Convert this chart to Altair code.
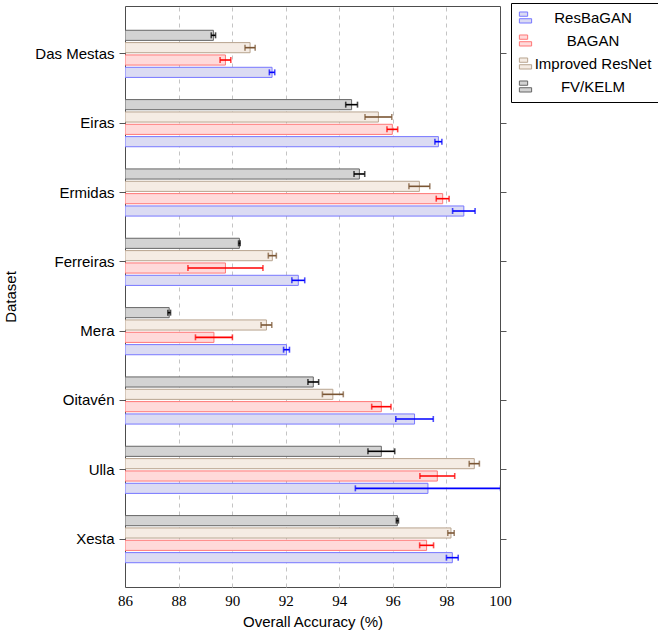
import altair as alt
import pandas as pd

datasets = ["Das Mestas", "Eiras", "Ermidas", "Ferreiras", "Mera", "Oitavén", "Ulla", "Xesta"]
methods = ["ResBaGAN", "BAGAN", "Improved ResNet", "FV/KELM"]
offset_order = ["FV/KELM", "Improved ResNet", "BAGAN", "ResBaGAN"]

resbagan = [91.49, 97.70, 98.65, 92.47, 92.03, 96.81, 97.31, 98.22]
resbagan_err = [0.10, 0.13, 0.42, 0.24, 0.11, 0.70, 2.71, 0.22]
bagan = [89.75, 95.98, 97.86, 89.75, 89.32, 95.57, 97.66, 97.26]
bagan_err = [0.20, 0.20, 0.24, 1.40, 0.69, 0.36, 0.65, 0.26]
resnet = [90.67, 95.46, 96.99, 91.50, 91.28, 93.76, 99.04, 98.17]
resnet_err = [0.19, 0.50, 0.39, 0.15, 0.20, 0.39, 0.19, 0.12]
fvkelm = [89.30, 94.46, 94.75, 90.27, 87.65, 93.03, 95.57, 96.17]
fvkelm_err = [0.08, 0.22, 0.20, 0.03, 0.05, 0.20, 0.50, 0.04]

x_ticks = [86, 88, 90, 92, 94, 96, 98, 100]

fills = ["#dbdbf3", "#ffdada", "#f5ece4", "#d3d3d3"]
strokes = ["#7777ff", "#ff7777", "#b8a48f", "#666666"]
errcolors = ["#0000ff", "#ff0000", "#7a5533", "#000000"]

rows = []
for m, vals, errs in [("ResBaGAN", resbagan, resbagan_err), ("BAGAN", bagan, bagan_err),
                      ("Improved ResNet", resnet, resnet_err), ("FV/KELM", fvkelm, fvkelm_err)]:
    for d, v, e in zip(datasets, vals, errs):
        rows.append({"Dataset": d, "Method": m, "value": v, "lo": v - e, "hi": v + e})
df = pd.DataFrame(rows)

sans = "Liberation Sans"
serif = "Liberation Serif"

xscale = alt.Scale(domain=[86, 100], zero=False, nice=False)
yscale = alt.Scale(domain=datasets, paddingInner=0.32, paddingOuter=0.35)
yoff = alt.YOffset("Method:N", scale=alt.Scale(domain=offset_order, paddingInner=0.18, paddingOuter=0))

xaxis = alt.Axis(values=x_ticks, grid=True, gridDash=[4, 4],
                 gridColor={"condition": {"test": "datum.value <= 86 || datum.value >= 100",
                                          "value": "transparent"},
                            "value": "#c4c4c4"},
                 ticks=False, domain=False, labelFont=serif, labelFontSize=15,
                 labelColor="black", labelPadding=6, labelFlush=False, labelOverlap=False,
                 title="Overall Accuracy (%)",
                 titleFont=sans, titleFontSize=15, titleFontWeight="normal",
                 titleColor="black", titlePadding=6)

sym = "M-1,-0.9H0.35V-0.2H-1Z M-1,0.2H1V0.9H-1Z"
leg = alt.Legend(title=None, orient="none", legendX=386, legendY=-3, symbolType=sym,
                 symbolSize=150, symbolStrokeWidth=1, labelFont=sans, labelFontSize=15,
                 labelColor="black", labelAlign="center", labelOffset=60,
                 strokeColor="black", fillColor="white", padding=7, rowPadding=6,
                 cornerRadius=0)

base = alt.Chart(df)

bars = base.mark_bar(strokeWidth=1, clip=True).encode(
    x=alt.X("value:Q", scale=xscale, axis=xaxis),
    x2=alt.datum(86),
    y=alt.Y("Dataset:N", scale=yscale,
            axis=alt.Axis(title="Dataset", orient="left", domain=False, tickSize=6,
                          tickColor="#555555", labelFont=sans, labelFontSize=15,
                          labelColor="black", labelPadding=5, titleFont=sans,
                          titleFontSize=15, titleFontWeight="normal", titleColor="black",
                          titlePadding=16)),
    yOffset=yoff,
    fill=alt.Fill("Method:N", scale=alt.Scale(domain=methods, range=fills), legend=leg),
    stroke=alt.Stroke("Method:N", scale=alt.Scale(domain=methods, range=strokes), legend=leg),
)

right_axis = base.mark_bar(opacity=0).encode(
    x=alt.X("value:Q", scale=xscale, axis=xaxis),
    x2=alt.datum(86),
    y=alt.Y("Dataset:N", scale=yscale,
            axis=alt.Axis(title=None, orient="right", labels=False, domain=False,
                          tickSize=6, tickColor="#555555")),
    yOffset=yoff,
)

errc = alt.Color("Method:N", scale=alt.Scale(domain=methods, range=errcolors), legend=None)

err_line = base.mark_rule(strokeWidth=1.6, clip=True).encode(
    x=alt.X("lo:Q", scale=xscale, axis=xaxis),
    x2="hi:Q",
    y=alt.Y("Dataset:N", scale=yscale, axis=None),
    yOffset=yoff,
    color=errc,
)

cap_lo = base.mark_tick(thickness=1.6, size=6, clip=True).encode(
    x=alt.X("lo:Q", scale=xscale, axis=xaxis),
    y=alt.Y("Dataset:N", scale=yscale, axis=None),
    yOffset=yoff,
    color=errc,
)
cap_hi = base.mark_tick(thickness=1.6, size=6, clip=True).encode(
    x=alt.X("hi:Q", scale=xscale, axis=xaxis),
    y=alt.Y("Dataset:N", scale=yscale, axis=None),
    yOffset=yoff,
    color=errc,
)

chart = alt.layer(bars, right_axis, err_line, cap_lo, cap_hi).resolve_axis(
    y="independent"
).resolve_scale(color="independent").properties(
    width=375, height=581,
    autosize=alt.AutoSizeParams(type="none"),
    padding={"left": 125, "top": 6, "right": 158, "bottom": 48},
    background="white",
).configure_view(stroke="#4d4d4d", strokeWidth=1)

chart.save("out.html", embed_options={"renderer": "svg", "actions": False})
